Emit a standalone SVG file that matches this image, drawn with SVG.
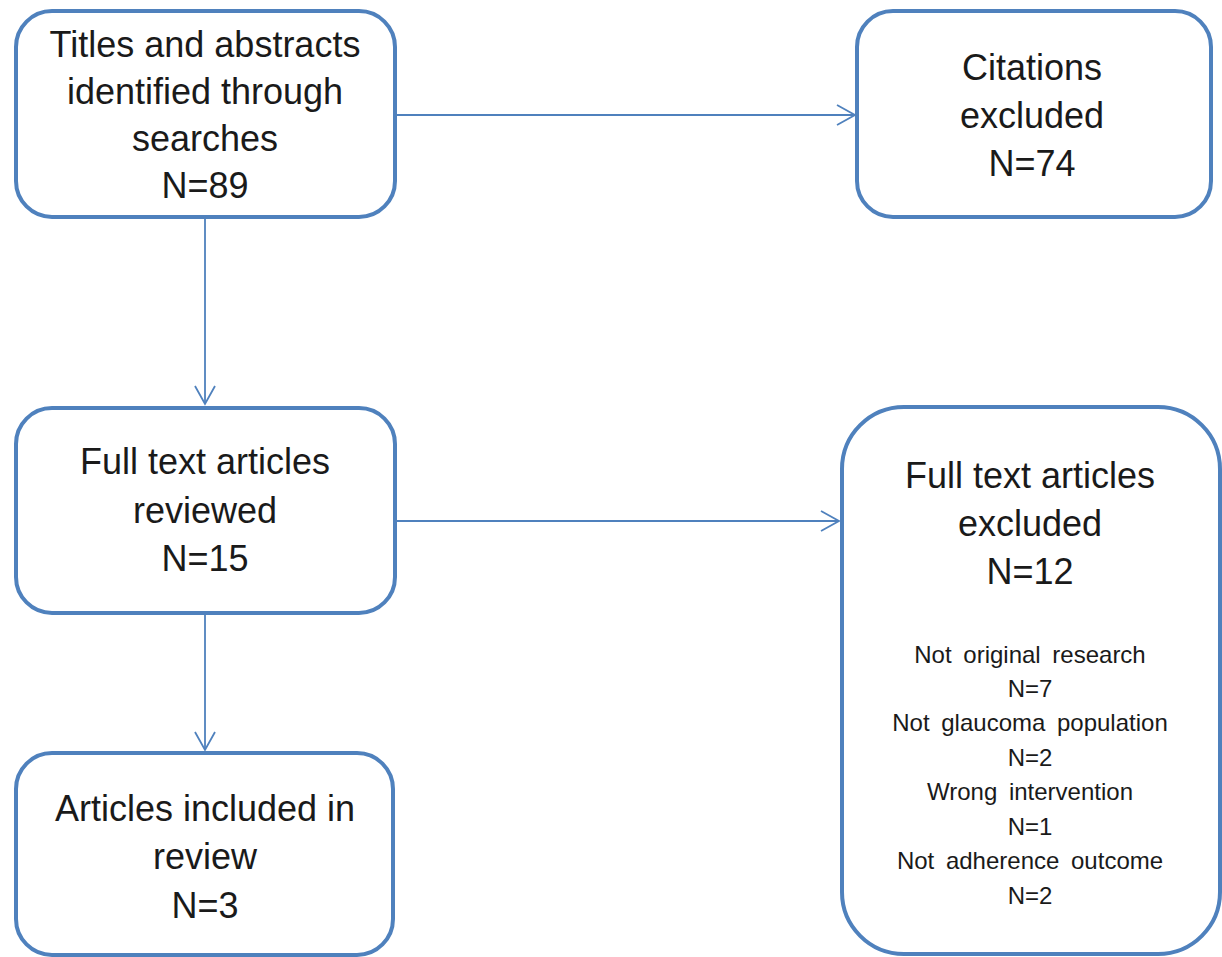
<svg xmlns="http://www.w3.org/2000/svg" width="1222" height="957" viewBox="0 0 1222 957">
<style>
.box{fill:#fff;stroke:#4F81BD;stroke-width:4}
.t{font-family:"Liberation Sans",Arial,sans-serif;font-size:36px;fill:#1a1a1a;text-anchor:middle}
.s{font-family:"Liberation Sans",Arial,sans-serif;font-size:24px;fill:#1a1a1a;text-anchor:middle;word-spacing:5px}
.c{fill:none;stroke:#4F81BD;stroke-width:1.8}
</style>
<defs>
<marker id="arr" markerUnits="userSpaceOnUse" markerWidth="24" markerHeight="24" viewBox="-20 -12 24 24" refX="0" refY="0" orient="auto">
<path d="M-18,-10 L0,0 L-18,10" fill="none" stroke="#4F81BD" stroke-width="1.8"/>
</marker>
</defs>
<rect width="1222" height="957" fill="#fff"/>
<g id="connectors">
<line class="c" x1="395" y1="115" x2="855" y2="115" marker-end="url(#arr)"/>
<line class="c" x1="205" y1="217" x2="205" y2="404" marker-end="url(#arr)"/>
<line class="c" x1="395" y1="521" x2="839" y2="521" marker-end="url(#arr)"/>
<line class="c" x1="205" y1="613" x2="205" y2="750" marker-end="url(#arr)"/>
</g>
<g id="n1">
<rect class="box" x="16" y="11" width="379" height="206" rx="36"/>
<text class="t" x="205" y="57">Titles and abstracts</text>
<text class="t" x="205" y="104">identified through</text>
<text class="t" x="205" y="151">searches</text>
<text class="t" x="205" y="198">N=89</text>
</g>
<g id="n2">
<rect class="box" x="857" y="11" width="354" height="206" rx="36"/>
<text class="t" x="1032" y="80">Citations</text>
<text class="t" x="1032" y="128">excluded</text>
<text class="t" x="1032" y="176">N=74</text>
</g>
<g id="n3">
<rect class="box" x="16" y="408" width="379" height="205" rx="36"/>
<text class="t" x="205" y="474">Full text articles</text>
<text class="t" x="205" y="523">reviewed</text>
<text class="t" x="205" y="571">N=15</text>
</g>
<g id="n4">
<rect class="box" x="842" y="407" width="378" height="547" rx="62"/>
<text class="t" x="1030" y="488">Full text articles</text>
<text class="t" x="1030" y="536">excluded</text>
<text class="t" x="1030" y="584">N=12</text>
<text class="s" x="1030" y="663">Not original research</text>
<text class="s" x="1030" y="697">N=7</text>
<text class="s" x="1030" y="731">Not glaucoma population</text>
<text class="s" x="1030" y="766">N=2</text>
<text class="s" x="1030" y="800">Wrong intervention</text>
<text class="s" x="1030" y="835">N=1</text>
<text class="s" x="1030" y="869">Not adherence outcome</text>
<text class="s" x="1030" y="904">N=2</text>
</g>
<g id="n5">
<rect class="box" x="16" y="753" width="377" height="202" rx="36"/>
<text class="t" x="205" y="821">Articles included in</text>
<text class="t" x="205" y="869">review</text>
<text class="t" x="205" y="918">N=3</text>
</g>
</svg>
